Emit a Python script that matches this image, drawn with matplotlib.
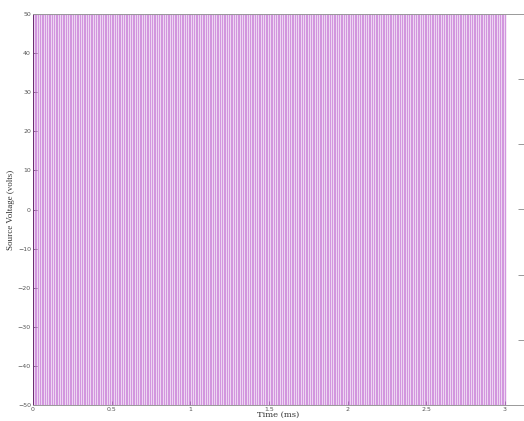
import numpy as np
import matplotlib
matplotlib.use("Agg")
import matplotlib.pyplot as plt

# data
amplitude = 50.0          # volts
switch_freq_khz = 45.0    # switching frequency (kHz)
t_end_ms = 3.0
x_ticks = [0, 0.5, 1, 1.5, 2, 2.5, 3]
x_tick_labels = ["0", "0.5", "1", "1.5", "2", "2.5", "3"]
y_ticks = [-50, -40, -30, -20, -10, 0, 10, 20, 30, 40, 50]

# build square wave (step edges)
half = 0.5 / switch_freq_khz
edges = np.arange(0, t_end_ms + 1e-9, half)
t = np.repeat(edges, 2)
levels = np.where(np.arange(len(edges)) % 2 == 0, amplitude, -amplitude)
v = np.empty_like(t)
v[0::2] = np.concatenate(([-amplitude], levels[:-1]))
v[1::2] = levels

fig = plt.figure(figsize=(5.24, 4.21), dpi=100)
ax = fig.add_axes([33/524, 16/421, (524-33)/524, (406-15)/421])
ax.plot(t, v, color="#c06ad0", lw=1.0, alpha=0.7)
ax.set_xlim(0, 3 * (524 - 33) / (505 - 33))
ax.set_ylim(-50, 50)
ax.set_xticks(x_ticks)
ax.set_xticklabels(x_tick_labels)
ax.set_yticks(y_ticks)
ax.tick_params(direction="in", length=3, width=0.6, labelsize=4.5,
               colors="#555555", pad=1.5)
for s in ax.spines.values():
    s.set_color("#999999")
    s.set_linewidth(0.7)
ax.spines["left"].set_color("#6a2a70")

ax.set_xlabel("Time (ms)", family="DejaVu Serif", fontsize=6, labelpad=-1,
              color="#333333")
ax.set_ylabel("Source Voltage (volts)", family="Liberation Serif", fontsize=6.5,
              labelpad=2, color="#333333")

ax2 = ax.twinx()
ax2.set_ylim(0, 6)
ax2.set_yticks([1, 2, 3, 4, 5])
ax2.set_yticklabels([])
ax2.tick_params(direction="in", length=4, width=0.6, colors="#888888")
for s in ax2.spines.values():
    s.set_visible(False)

fig.savefig("out.png", dpi=100)
